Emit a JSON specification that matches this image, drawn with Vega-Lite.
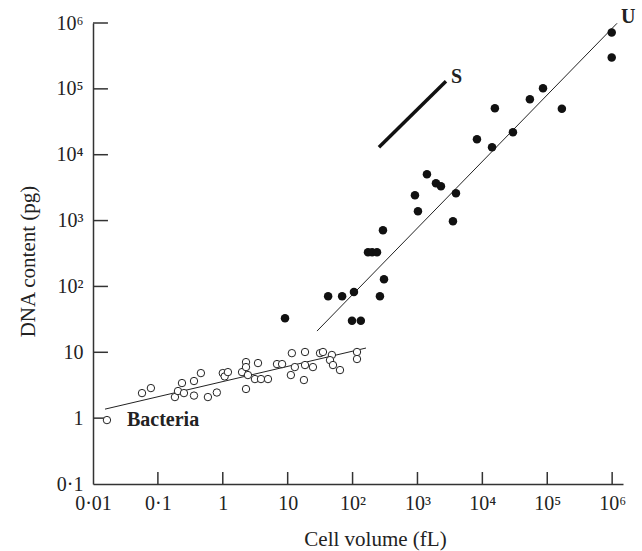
{
  "$schema": "https://vega.github.io/schema/vega-lite/v6.json",
  "width": 530,
  "height": 461,
  "autosize": {"type": "none"},
  "padding": {"left": 93, "top": 23, "right": 19, "bottom": 67},
  "background": "white",
  "config": {"view": {"stroke": null}},
  "datasets": {
    "bacteria": [
      {"x": 0.0164, "y": 0.935}, {"x": 0.0569, "y": 2.4}, {"x": 0.078, "y": 2.86},
      {"x": 0.183, "y": 2.09}, {"x": 0.204, "y": 2.58}, {"x": 0.235, "y": 3.41},
      {"x": 0.252, "y": 2.4}, {"x": 0.36, "y": 3.66}, {"x": 0.46, "y": 4.83},
      {"x": 0.36, "y": 2.2}, {"x": 0.59, "y": 2.09}, {"x": 0.81, "y": 2.45},
      {"x": 1.0, "y": 4.83}, {"x": 1.07, "y": 4.3}, {"x": 1.2, "y": 5.0},
      {"x": 1.98, "y": 5.0}, {"x": 2.28, "y": 7.1}, {"x": 2.28, "y": 5.96},
      {"x": 2.28, "y": 2.77}, {"x": 2.44, "y": 4.51}, {"x": 3.49, "y": 6.86},
      {"x": 3.13, "y": 3.92}, {"x": 3.88, "y": 3.92}, {"x": 4.97, "y": 3.92},
      {"x": 6.84, "y": 6.62}, {"x": 8.2, "y": 6.62}, {"x": 11.6, "y": 9.7},
      {"x": 12.9, "y": 5.96}, {"x": 11.2, "y": 4.51}, {"x": 18.5, "y": 10.1},
      {"x": 18.5, "y": 6.4}, {"x": 17.8, "y": 3.79}, {"x": 24.5, "y": 5.96},
      {"x": 31.5, "y": 9.7}, {"x": 35, "y": 10.1}, {"x": 48, "y": 9.1},
      {"x": 44.9, "y": 7.6}, {"x": 49.9, "y": 6.4}, {"x": 64, "y": 5.37},
      {"x": 117, "y": 10.1}, {"x": 117, "y": 7.9}
    ],
    "eukaryotes": [
      {"x": 9.1, "y": 33}, {"x": 42, "y": 71}, {"x": 69, "y": 71}, {"x": 105, "y": 82},
      {"x": 98, "y": 30}, {"x": 134, "y": 30}, {"x": 264, "y": 71}, {"x": 305, "y": 129},
      {"x": 173, "y": 330}, {"x": 200, "y": 330}, {"x": 238, "y": 330}, {"x": 294, "y": 715},
      {"x": 915, "y": 2430}, {"x": 1018, "y": 1390}, {"x": 1400, "y": 5060},
      {"x": 1928, "y": 3700}, {"x": 2300, "y": 3330}, {"x": 3524, "y": 980},
      {"x": 3920, "y": 2605}, {"x": 8260, "y": 17200}, {"x": 14100, "y": 13000},
      {"x": 15600, "y": 50800}, {"x": 29600, "y": 21900}, {"x": 54000, "y": 69500},
      {"x": 86000, "y": 102000}, {"x": 168000, "y": 50000}, {"x": 985000, "y": 720000},
      {"x": 985000, "y": 300000}
    ],
    "lines": [
      {"series": "bacteria", "x": 0.0153, "y": 1.37}, {"series": "bacteria", "x": 161, "y": 11.6},
      {"series": "eukaryotes", "x": 28.3, "y": 21}, {"series": "eukaryotes", "x": 1190000, "y": 990000},
      {"series": "S", "x": 255, "y": 13000}, {"series": "S", "x": 2750, "y": 130000}
    ],
    "labels": [
      {"label": "Bacteria", "x": 0.0334, "y": 0.759},
      {"label": "S", "x": 3281, "y": 121600},
      {"label": "U", "x": 1370000, "y": 990000}
    ],
    "xticks": [
      {"v": 0.1}, {"v": 1}, {"v": 10}, {"v": 100}, {"v": 1000}, {"v": 10000}, {"v": 100000}, {"v": 1000000}
    ],
    "yticks": [
      {"v": 1}, {"v": 10}, {"v": 100}, {"v": 1000}, {"v": 10000}, {"v": 100000}, {"v": 1000000}
    ]
  },
  "resolve": {"axis": {"x": "independent", "y": "independent"}},
  "layer": [
    {
      "data": {"name": "lines"},
      "transform": [{"filter": "datum.series != 'S'"}],
      "mark": {"type": "line", "color": "#222", "strokeWidth": 1},
      "encoding": {
        "x": {
          "field": "x", "type": "quantitative",
          "scale": {"type": "log", "domain": [0.01, 1470000], "nice": false},
          "axis": {
            "orient": "bottom",
            "title": "Cell volume (fL)",
            "values": [0.01, 0.1, 1, 10, 100, 1000, 10000, 100000, 1000000],
            "labelExpr": "datum.value < 0.05 ? '0·01' : datum.value < 0.5 ? '0·1' : datum.value < 5 ? '1' : datum.value < 50 ? '10' : datum.value < 500 ? '10²' : datum.value < 5000 ? '10³' : datum.value < 50000 ? '10⁴' : datum.value < 500000 ? '10⁵' : '10⁶'",
            "grid": false, "tickSize": 0, "tickOpacity": 0,
            "domainColor": "#333", "domainWidth": 1.5,
            "labelFont": "Liberation Serif", "labelFontSize": 20, "labelColor": "#222",
            "labelBaseline": "alphabetic", "labelPadding": 25, "labelFlush": false, "labelOverlap": false,
            "titleFont": "Liberation Serif", "titleFontSize": 21, "titleFontWeight": "normal", "titleColor": "#222",
            "titleX": 282, "titleY": 61, "titleBaseline": "alphabetic"
          }
        },
        "y": {
          "field": "y", "type": "quantitative",
          "scale": {"type": "log", "domain": [0.1, 1000000], "nice": false},
          "axis": {
            "orient": "left",
            "title": "DNA content (pg)",
            "values": [0.1, 1, 10, 100, 1000, 10000, 100000, 1000000],
            "labelExpr": "datum.value < 0.5 ? '0·1' : datum.value < 5 ? '1' : datum.value < 50 ? '10' : datum.value < 500 ? '10²' : datum.value < 5000 ? '10³' : datum.value < 50000 ? '10⁴' : datum.value < 500000 ? '10⁵' : '10⁶'",
            "grid": false, "tickSize": 0, "tickOpacity": 0,
            "domainColor": "#333", "domainWidth": 1.5,
            "labelFont": "Liberation Serif", "labelFontSize": 20, "labelColor": "#222",
            "labelPadding": 10, "labelFlush": false, "labelOverlap": false,
            "titleFont": "Liberation Serif", "titleFontSize": 21, "titleFontWeight": "normal", "titleColor": "#222",
            "titleY": 238, "titleX": -55
          }
        },
        "detail": {"field": "series"}
      }
    },
    {
      "data": {"name": "xticks"},
      "mark": {"type": "rule", "color": "#333", "strokeWidth": 1.5},
      "encoding": {
        "x": {"field": "v", "type": "quantitative", "axis": null},
        "y": {"datum": 0.1, "type": "quantitative", "axis": null},
        "y2": {"datum": 0.152}
      }
    },
    {
      "data": {"name": "yticks"},
      "mark": {"type": "rule", "color": "#333", "strokeWidth": 1.5},
      "encoding": {
        "y": {"field": "v", "type": "quantitative", "axis": null},
        "x": {"datum": 0.01, "type": "quantitative", "axis": null},
        "x2": {"datum": 0.017}
      }
    },
    {
      "data": {"name": "lines"},
      "transform": [{"filter": "datum.series == 'S'"}],
      "mark": {"type": "line", "color": "#111", "strokeWidth": 3.5},
      "encoding": {
        "x": {"field": "x", "type": "quantitative", "axis": null},
        "y": {"field": "y", "type": "quantitative", "axis": null}
      }
    },
    {
      "data": {"name": "bacteria"},
      "mark": {"type": "point", "shape": "circle", "filled": false, "fill": "white", "fillOpacity": 1, "stroke": "#222", "strokeWidth": 1, "size": 55, "opacity": 1},
      "encoding": {
        "x": {"field": "x", "type": "quantitative", "axis": null},
        "y": {"field": "y", "type": "quantitative", "axis": null}
      }
    },
    {
      "data": {"name": "eukaryotes"},
      "mark": {"type": "point", "shape": "circle", "filled": true, "color": "#111", "size": 72, "opacity": 1},
      "encoding": {
        "x": {"field": "x", "type": "quantitative", "axis": null},
        "y": {"field": "y", "type": "quantitative", "axis": null}
      }
    },
    {
      "data": {"name": "labels"},
      "mark": {"type": "text", "align": "left", "baseline": "alphabetic", "font": "Liberation Serif", "fontWeight": "bold", "fontSize": 20, "color": "#222"},
      "encoding": {
        "x": {"field": "x", "type": "quantitative", "axis": null},
        "y": {"field": "y", "type": "quantitative", "axis": null},
        "text": {"field": "label"}
      }
    }
  ]
}
